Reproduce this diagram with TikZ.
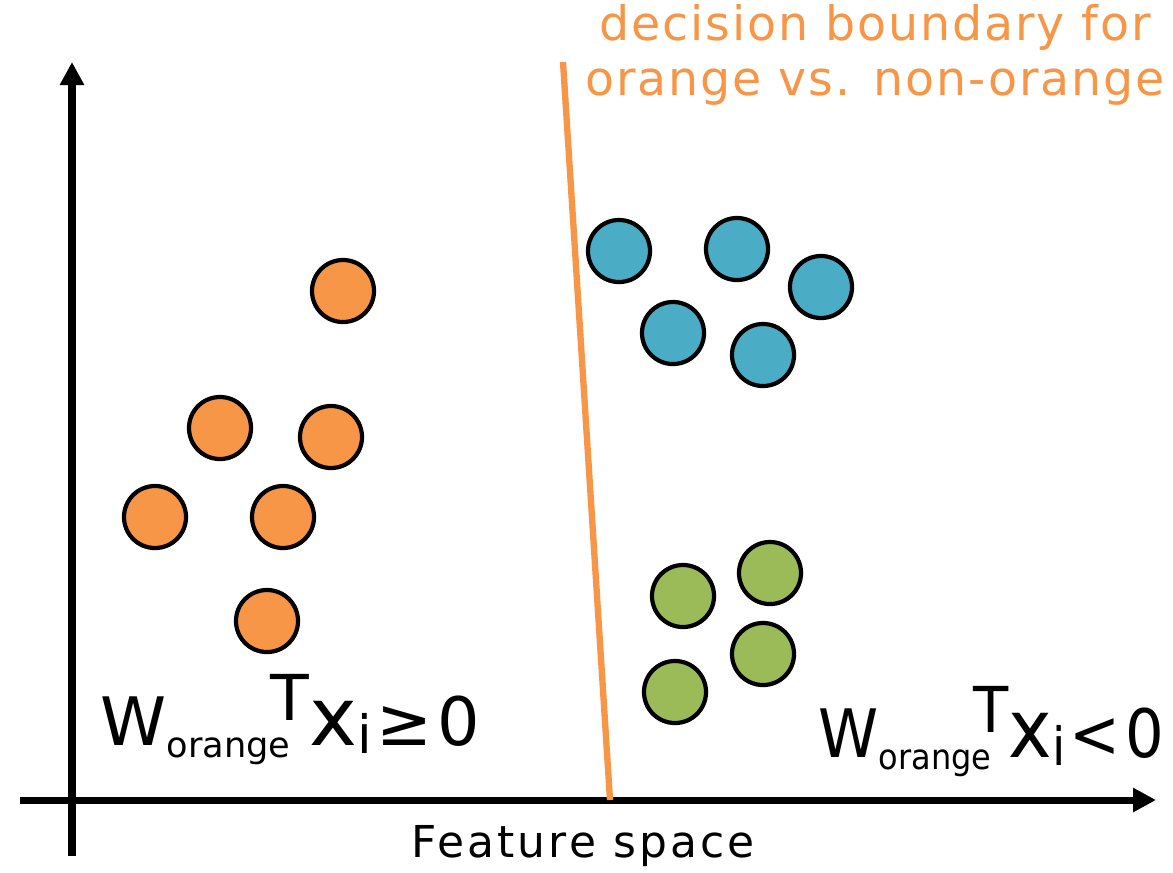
\documentclass[tikz,border=0pt]{standalone}
\usepackage{fontspec}
\setmainfont{DejaVu Sans}
\newfontfamily\widefont[LetterSpace=7]{DejaVu Sans}
\newfontfamily\topfont[LetterSpace=4]{DejaVu Sans}
\usetikzlibrary{arrows.meta}
\definecolor{dotorange}{HTML}{F79646}
\definecolor{dotblue}{HTML}{4BACC6}
\definecolor{dotgreen}{HTML}{9BBB59}
\newcommand{\wlab}[1]{%
    \fontsize{19}{19}\selectfont W%
    \raisebox{-0.12cm}{\fontsize{10}{10}\selectfont orange}%
    \hspace{-0.2cm}\raisebox{0.25cm}{\fontsize{18}{18}\selectfont T}%
    {\fontsize{23}{23}\selectfont x}\raisebox{-0.08cm}{\fontsize{15}{15}\selectfont i}%
    \hspace{0.05cm}#1\hspace{0.05cm}0}
\begin{document}
\begin{tikzpicture}[%
        x=0.01cm, y=-0.01cm,
        axis/.style={line width=2pt, -{Triangle[length=0.23cm,width=0.23cm]}},
        mydot/.style={shape=circle, draw=black, line width=1.2pt, minimum size=0.62cm, inner sep=0pt},
        hand/.style={inner sep=0pt}
    ]
        \useasboundingbox (0,0) rectangle (1173,872);

        % axes
        \coordinate (xs) at (20,800);
        \coordinate (xe) at (1156,800);
        \coordinate (ys) at (72,856);
        \coordinate (ye) at (72,62);
        \draw [axis] (xs) -- (xe);
        \draw [axis] (ys) -- (ye);

        % boundary
        \coordinate (b1) at (563,62);
        \coordinate (b2) at (610,800);
        \draw [dotorange, line width=1.8pt] (b1) -- (b2);

        \foreach \n/\px/\py in
            {o1/343/291,o2/220/428,o3/331/437,o4/155/517,o5/283/517,o6/267/621}
            \node [mydot, fill=dotorange] (\n) at (\px,\py) {};
        \foreach \n/\px/\py in
            {b1/619/251,b2/737/249,b3/821/287,b4/673/333,b5/763/355}
            \node [mydot, fill=dotblue] (\n) at (\px,\py) {};
        \foreach \n/\px/\py in
            {g1/770/573,g2/683/596,g3/763/654,g4/675/692}
            \node [mydot, fill=dotgreen] (\n) at (\px,\py) {};

        \node [hand, anchor=base west] (lpos) at (100,745) {\wlab{≥}};
        \node [hand, anchor=base west] (lneg) at (818,757) {\scalebox{0.91}[1]{\wlab{<}}};

        \node [anchor=base, font=\widefont\fontsize{12.5}{12.5}\selectfont] (xlab) at (583,857) {Feature space};
        \node [dotorange, align=center, anchor=north, inner sep=0pt, font=\topfont\fontsize{13.5}{15.6}\selectfont] (blab) at (875,4)
            {decision boundary for\\orange vs. non-orange};
    \end{tikzpicture}
\end{document}
